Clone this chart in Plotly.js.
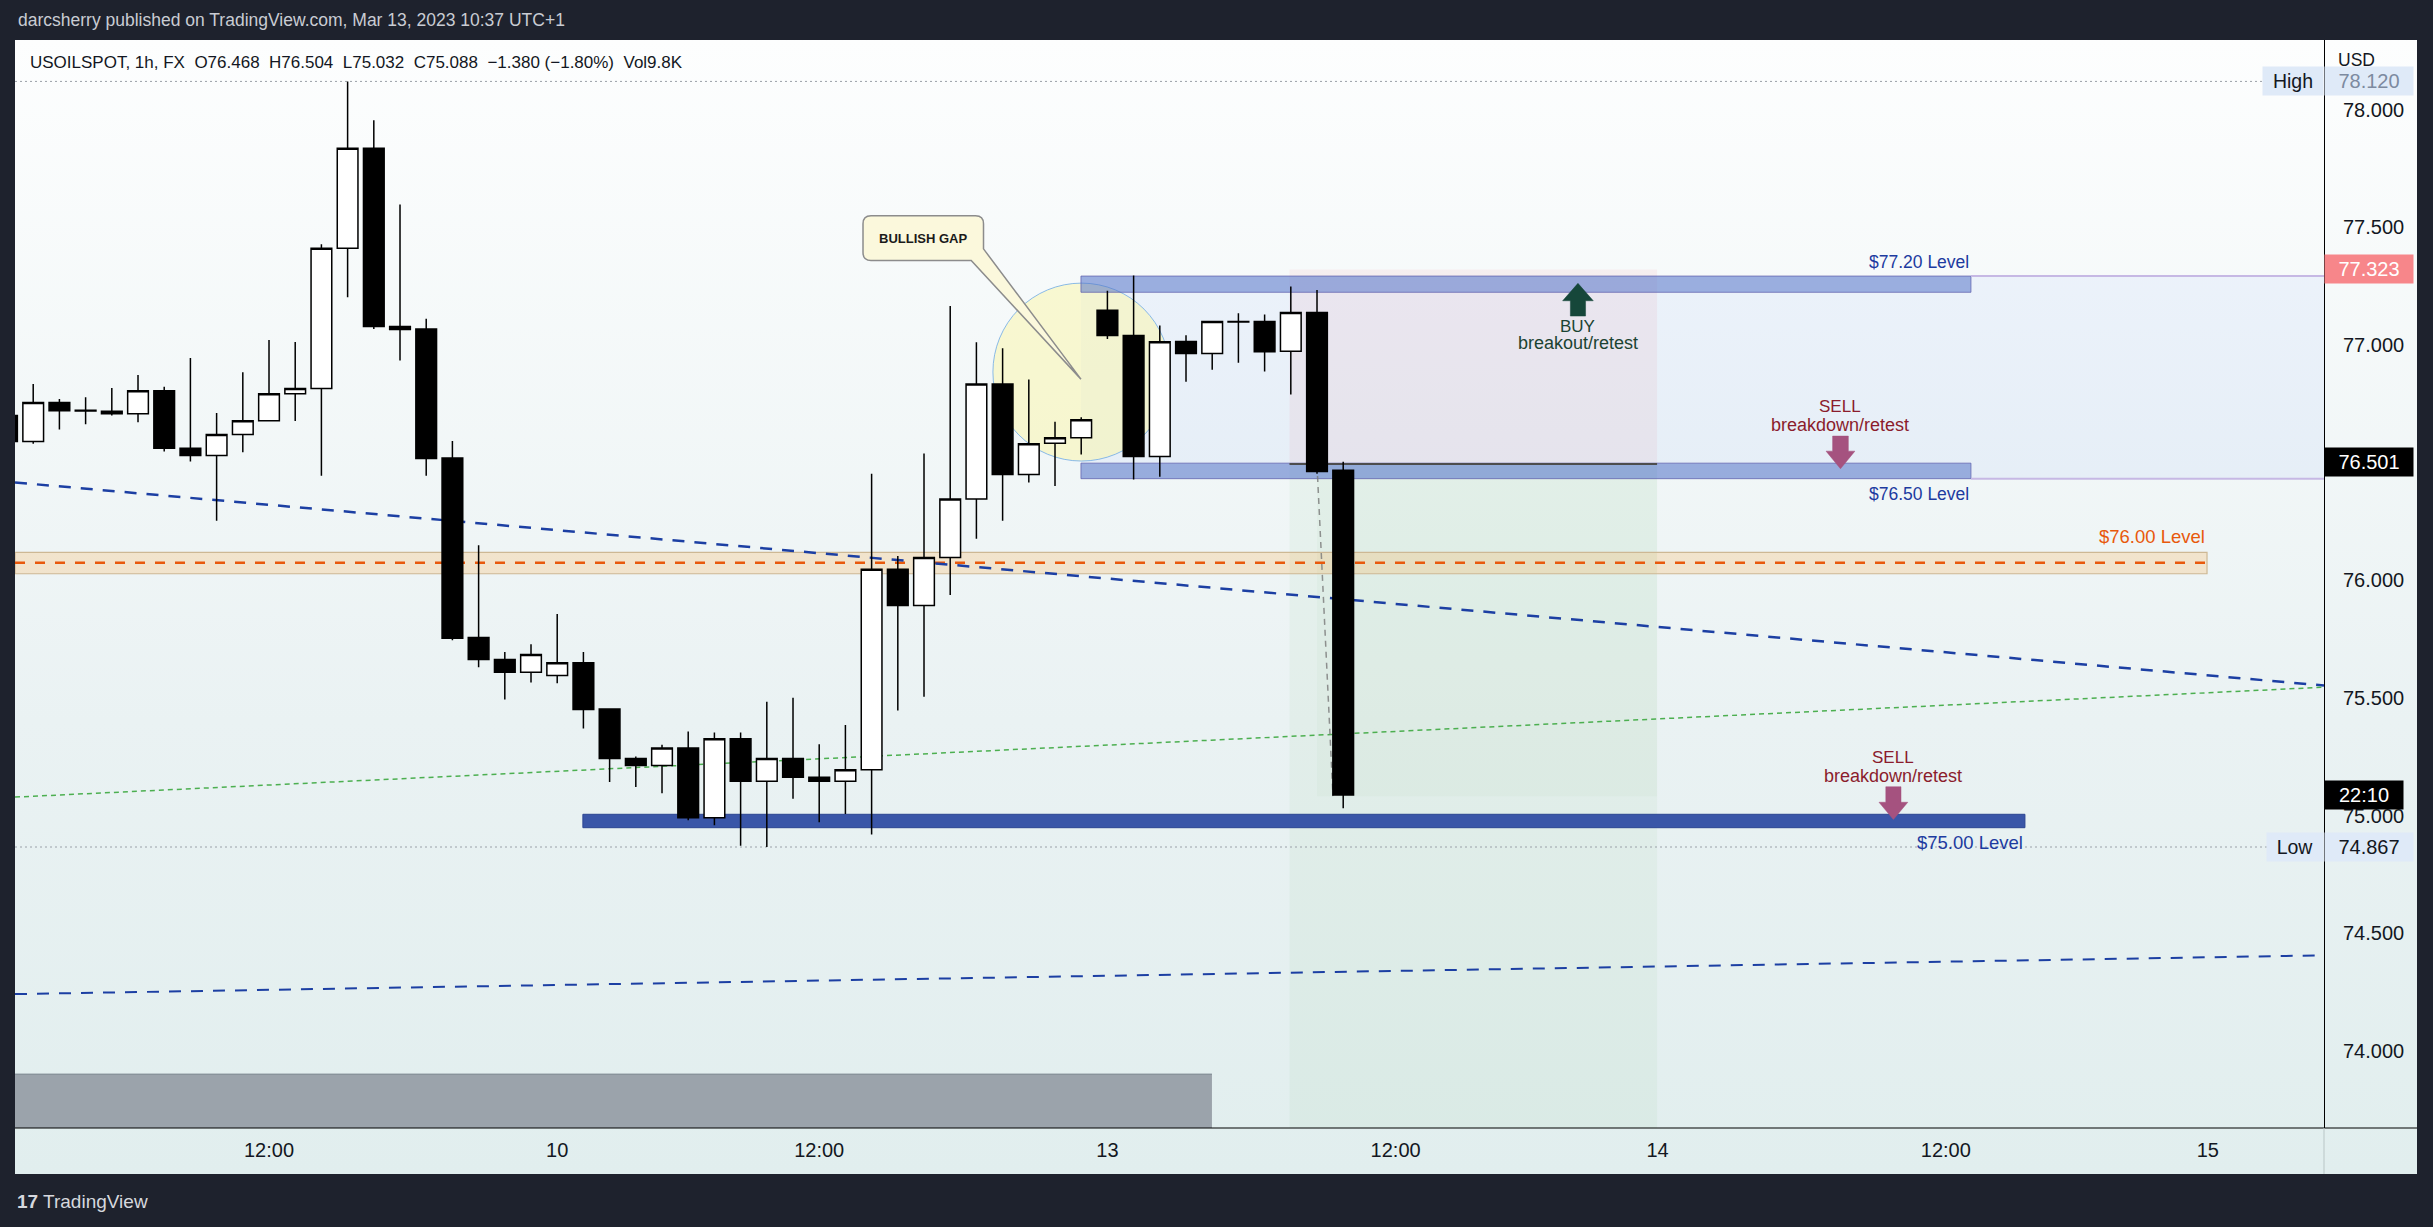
<!DOCTYPE html>
<html><head><meta charset="utf-8">
<script src="https://cdn.plot.ly/plotly-3.0.1.min.js"></script>
<style>
html,body{margin:0;padding:0;background:#1e222d;width:2433px;height:1227px;overflow:hidden;}
#bg{position:absolute;left:15px;top:40px;width:2402px;height:1134px;background:linear-gradient(to bottom,#fdfefe 0%,#eaf2f3 60%,#e1eeee 100%);}
#chart{position:absolute;left:0;top:0;width:2433px;height:1227px;}
</style></head><body>
<div id="bg"></div><div id="chart"></div>
<script>
// ---------- DATA (USOILSPOT 1h candles) ----------
const openP  = [76.701,76.590,76.756,76.723,76.719,76.708,76.806,76.561,76.531,76.620,76.678,76.793,76.815,77.411,77.836,77.079,77.068,76.520,75.757,75.664,75.610,75.596,75.650,75.453,75.243,75.213,75.288,74.991,75.327,75.146,75.243,75.163,75.146,75.195,76.047,75.893,76.097,76.346,76.834,76.450,76.583,76.606,77.148,77.040,76.526,77.015,76.964,77.100,77.100,76.973,77.138,76.468];
const highP  = [76.720,76.834,76.771,76.778,76.817,76.873,76.823,76.945,76.711,76.884,77.021,77.013,77.428,78.120,77.955,77.597,77.112,76.592,76.149,75.696,75.728,75.857,75.696,75.455,75.252,75.301,75.358,75.354,75.354,75.484,75.501,75.304,75.385,76.453,76.104,76.539,77.166,77.012,76.986,76.853,76.674,76.693,77.231,77.295,77.083,77.041,77.100,77.135,77.130,77.249,77.234,76.504];
const lowP   = [76.570,76.580,76.641,76.663,76.700,76.672,76.548,76.505,76.253,76.544,76.678,76.677,76.444,77.203,77.068,76.934,76.444,75.746,75.631,75.494,75.566,75.563,75.371,75.143,75.122,75.095,74.981,74.959,74.872,74.867,75.072,74.972,75.007,74.920,75.447,75.505,75.938,76.177,76.253,76.416,76.401,76.535,77.025,76.429,76.440,76.844,76.895,76.925,76.887,76.790,76.453,75.032];
const closeP = [76.590,76.756,76.721,76.720,76.708,76.806,76.561,76.531,76.620,76.678,76.793,76.815,77.411,77.836,77.079,77.066,76.518,75.754,75.664,75.610,75.685,75.650,75.451,75.243,75.213,75.288,74.991,75.327,75.146,75.243,75.163,75.146,75.195,76.047,75.893,76.097,76.346,76.834,76.450,76.580,76.606,76.682,77.040,76.526,77.014,76.964,77.100,77.098,76.971,77.138,76.462,75.088];
const slot = openP.map((_, i) => i);   // hourly bar slots (weekend gap collapsed)

const timeTickSlots = [10, 21, 31, 42, 53, 63, 74, 84];
const timeTickText  = ['12:00', '10', '12:00', '13', '12:00', '14', '12:00', '15'];
const priceTicks    = [74, 74.5, 75, 75.5, 76, 76.5, 77, 77.5, 78];

const sessionHigh = 78.120, sessionLow = 74.867;
const stopLevel = 77.323, entryLevel = 76.501;
const countdown = '22:10';

// drawn levels [slotStart, slotEnd, priceLow, priceHigh]
const zone7720 = [40.99, 74.96, 77.224, 77.293];
const zone7650 = [40.99, 74.96, 76.432, 76.498];
const zone7600 = [0.305, 83.97, 76.028, 76.119];
const line7600 = 76.075;
const zone7500 = [21.98, 77.02, 74.949, 75.006];
const rangeBox = [40.99, 88.435, 76.432, 77.293];
// trend lines [[slot, price], [slot, price]]
const trendDown  = [[0.305, 76.416], [88.435, 75.553]];
const trendLow   = [[0.305, 74.242], [88.09, 74.406]];
const trendGreen = [[0.305, 75.079], [88.435, 75.546]];
// short position tool
const posSlots = [48.95, 62.98], posTargetSlot = 50.0;
const posStop = 77.321, posEntry = 76.494, posTarget = 75.083;
// bullish gap highlight
const gapCircle = [37.63, 44.39, 76.507, 77.263];
const calloutBox = [32.672, 37.271, 77.3588, 77.5496];
const calloutTip = [40.99, 76.855];

const FONT = '"Liberation Sans", Arial, sans-serif';
const slotRange = [0.305, 88.435];
const priceRange = [73.673, 78.296];

// ---------- helpers ----------
function rect(x0, x1, y0, y1, fill, lineColor, lw, layer) {
  return {type:'rect', xref:'x', yref:'y', x0, x1, y0, y1, fillcolor:fill,
    line:{color:lineColor || 'rgba(0,0,0,0)', width: lw || 0}, layer: layer || 'below'};
}
function seg(p0, p1, color, width, dash, layer) {
  return {type:'line', xref:'x', yref:'y', x0:p0[0], y0:p0[1], x1:p1[0], y1:p1[1],
    line:{color, width, dash: dash || 'solid'}, layer: layer || 'below'};
}
function arrow(xc, tail, base, tip, hh, hs, color) {
  const p = `M${xc-hs},${tail} L${xc-hs},${base} L${xc-hh},${base} L${xc},${tip} L${xc+hh},${base} L${xc+hs},${base} L${xc+hs},${tail} Z`;
  return {type:'path', xref:'x', yref:'y', path:p, fillcolor:color, line:{color, width:0.5}, layer:'above'};
}
function callout(b, tip, rx, ry) {
  const [L, R, B, T] = b;
  const pRight = 77.4085, pBottomX = 36.802;
  const p = `M${L+rx},${T} L${R-rx},${T} Q${R},${T} ${R},${T-ry} L${R},${pRight} L${tip[0]},${tip[1]} ` +
            `L${pBottomX},${B} L${L+rx},${B} Q${L},${B} ${L},${B+ry} L${L},${T-ry} Q${L},${T} ${L+rx},${T} Z`;
  return {type:'path', xref:'x', yref:'y', path:p, fillcolor:'#fbf8dc', line:{color:'#8c8c8c', width:1.5}, layer:'above'};
}

const greyStripEnd = (45.99 - slotRange[0]) / (slotRange[1] - slotRange[0]);

const shapes = [
  // bottom-left grey strip
  {type:'rect', xref:'paper', yref:'y', x0:0, x1:greyStripEnd, y0:priceRange[0], y1:73.902, fillcolor:'#9ba3ab', line:{width:0}, layer:'below'},
  {type:'line', xref:'paper', yref:'y', x0:0, x1:greyStripEnd, y0:73.902, y1:73.902, line:{color:'#7f8992', width:1}, layer:'below'},
  // position tool
  rect(posSlots[0], posSlots[1], priceRange[0], posEntry, 'rgba(76,175,80,0.05)'),
  rect(posSlots[0], posSlots[1], posEntry, posStop, 'rgba(242,54,69,0.06)'),
  rect(posTargetSlot, posSlots[1], posTarget, posEntry, 'rgba(76,175,80,0.035)'),
  // light range box
  rect(rangeBox[0], rangeBox[1], rangeBox[2], rangeBox[3], 'rgba(41,98,255,0.05)'),
  // bullish gap circle
  {type:'circle', xref:'x', yref:'y', x0:gapCircle[0], x1:gapCircle[1], y0:gapCircle[2], y1:gapCircle[3],
    fillcolor:'rgba(250,246,175,0.55)', line:{color:'rgba(110,170,230,0.8)', width:1}, layer:'below'},
  // 77.20 / 76.50 bands
  rect(zone7720[0], zone7720[1], zone7720[2], zone7720[3], 'rgba(88,118,200,0.55)', 'rgba(90,90,170,0.7)', 1),
  rect(zone7650[0], zone7650[1], zone7650[2], zone7650[3], 'rgba(88,118,200,0.55)', 'rgba(90,90,170,0.7)', 1),
  seg([zone7720[1], rangeBox[3]], [rangeBox[1], rangeBox[3]], '#c6b8e4', 2),
  seg([zone7650[1], rangeBox[2]], [rangeBox[1], rangeBox[2]], '#c6b8e4', 2),
  // 76.00 band
  rect(zone7600[0], zone7600[1], zone7600[2], zone7600[3], 'rgba(255,170,60,0.22)', '#cdb894', 1.2),
  seg([zone7600[0], line7600], [zone7600[1], line7600], '#e8590c', 2.5, '10px,10px'),
  // 75.00 band
  rect(zone7500[0], zone7500[1], zone7500[2], zone7500[3], '#3a56a8', '#2c4592', 1),
  // session high / low dotted
  seg([slotRange[0], sessionHigh], [slotRange[1], sessionHigh], '#9aa0a8', 1, '2px,3px'),
  seg([slotRange[0], sessionLow], [slotRange[1], sessionLow], '#9aa0a8', 1, '2px,3px'),
  // trend lines
  seg(trendDown[0], trendDown[1], '#1c3fa3', 2.5, '12px,10px'),
  seg(trendLow[0], trendLow[1], '#1c3fa3', 2, '12px,10px'),
  seg(trendGreen[0], trendGreen[1], '#4caf50', 1.5, '5px,4px'),
  // position entry line and connector
  seg([posSlots[0], posEntry], [posSlots[1], posEntry], '#4d4d4d', 2),
  seg([posTargetSlot, 76.490], [50.61, posTarget], 'rgba(120,120,120,0.8)', 1.5, '6px,5px'),
  // time-axis border + price axis extension
  {type:'line', xref:'paper', yref:'paper', x0:0, x1:1.0403, y0:0, y1:0, line:{color:'#000', width:1}, layer:'above'},
  {type:'line', xref:'paper', yref:'paper', x0:1, x1:1, y0:0, y1:-0.0423, line:{color:'#b9c6c6', width:1}, layer:'above'},
  // callout & arrows
  callout(calloutBox, calloutTip, 0.305, 0.034),
  arrow(59.96, 77.123, 77.188, 77.262, 0.584, 0.29, '#16473a'),
  arrow(69.98, 76.613, 76.549, 76.474, 0.55, 0.30, '#a5527f'),
  arrow(72.00, 75.123, 75.057, 74.984, 0.55, 0.29, '#a5527f'),
];

function txt(x, y, text, size, color, xanchor, extra) {
  return Object.assign({xref:'x', yref:'y', x, y, text, showarrow:false, xanchor: xanchor || 'center', yanchor:'middle',
    font:{family:FONT, size, color}}, extra || {});
}
function badge(y, text, bg, fg, w, side) {
  return {xref:'paper', yref:'y', x:1, y, text, showarrow:false, xanchor: side === 'in' ? 'right' : 'left', yanchor:'middle',
    bgcolor:bg, width:w, height:28, align:'center', borderpad:0, font:{family:FONT, size: side === 'in' ? 19.5 : 20, color:fg}};
}

const annotations = [
  {xref:'paper', yref:'paper', x:0.0003, y:1.0184, xanchor:'left', yanchor:'middle', showarrow:false,
    text:'darcsherry published on TradingView.com, Mar 13, 2023 10:37 UTC+1', font:{family:FONT, size:17.5, color:'#c9ccd3'}},
  {xref:'paper', yref:'paper', x:0.0056, y:0.9789, xanchor:'left', yanchor:'middle', showarrow:false,
    text:'USOILSPOT, 1h, FX  O76.468  H76.504  L75.032  C75.088  −1.380 (−1.80%)  Vol9.8K', font:{family:FONT, size:17, color:'#131722'}},
  {xref:'paper', yref:'paper', x:0, y:-0.068, xanchor:'left', yanchor:'middle', showarrow:false,
    text:'<b>17</b> TradingView', font:{family:FONT, size:19, color:'#d6d8de'}},
  {xref:'paper', yref:'y', x:1, y:78.209, xanchor:'left', yanchor:'middle', xshift:12, showarrow:false,
    text:'USD', font:{family:FONT, size:17.5, color:'#131722'}},
  txt(zone7720[1], 77.354, '$77.20 Level', 17.5, '#1d3ba0', 'right'),
  txt(zone7650[1], 76.368, '$76.50 Level', 17.5, '#1d3ba0', 'right'),
  txt(zone7600[1], 76.185, '$76.00 Level', 18.5, '#e8590c', 'right'),
  txt(zone7500[1], 74.887, '$75.00 Level', 18.5, '#1d3ba0', 'right'),
  txt(34.96, 77.454, '<b>BULLISH GAP</b>', 13, '#1a1a1a'),
  txt(59.96, 77.078, 'BUY', 17, '#1b4332'),
  txt(59.96, 77.007, 'breakout/retest', 18, '#1b4332'),
  txt(69.98, 76.738, 'SELL', 17, '#8b1c2c'),
  txt(69.98, 76.660, 'breakdown/retest', 18, '#8b1c2c'),
  txt(72.00, 75.246, 'SELL', 17, '#8b1c2c'),
  txt(72.00, 75.168, 'breakdown/retest', 18, '#8b1c2c'),
  badge(sessionHigh, sessionHigh.toFixed(3), '#dfeaf8', '#7d8aa0', 88),
  badge(stopLevel, stopLevel.toFixed(3), '#f7868a', '#ffffff', 88),
  badge(entryLevel, entryLevel.toFixed(3), '#000000', '#ffffff', 88),
  badge(closeP[closeP.length - 1], countdown, '#000000', '#ffffff', 78),
  badge(sessionLow, sessionLow.toFixed(3), '#dfeaf8', '#131722', 88),
  badge(sessionHigh, 'High', '#dfeaf8', '#131722', 60, 'in'),
  badge(sessionLow, 'Low', '#dfeaf8', '#131722', 56, 'in'),
];

const trace = {
  type:'candlestick', x:slot, open:openP, high:highP, low:lowP, close:closeP,
  increasing:{line:{color:'#000000', width:1.5}, fillcolor:'#ffffff'},
  decreasing:{line:{color:'#000000', width:1.5}, fillcolor:'#000000'},
  whiskerwidth:0, hoverinfo:'skip', showlegend:false
};

const layout = {
  width:2433, height:1227,
  margin:{l:15, r:109, t:40, b:99, pad:0},
  paper_bgcolor:'rgba(0,0,0,0)', plot_bgcolor:'rgba(0,0,0,0)',
  showlegend:false,
  font:{family:FONT, color:'#131722'},
  boxgap:0.21, boxgroupgap:0,
  xaxis:{type:'linear', range:slotRange, tickmode:'array', tickvals:timeTickSlots, ticktext:timeTickText,
    showgrid:false, zeroline:false, showline:false, ticks:'', ticklabelstandoff:8,
    tickfont:{family:FONT, size:20, color:'#131722'}, rangeslider:{visible:false}, fixedrange:true},
  yaxis:{side:'right', range:priceRange, tickmode:'array', tickvals:priceTicks, ticktext:priceTicks.map(v => v.toFixed(3)),
    showgrid:false, zeroline:false, showline:true, linecolor:'#000', linewidth:1, ticks:'', ticklabelstandoff:14,
    tickfont:{family:FONT, size:20, color:'#131722'}, fixedrange:true},
  shapes, annotations
};

Plotly.newPlot('chart', [trace], layout, {displayModeBar:false, staticPlot:true});
</script></body></html>
